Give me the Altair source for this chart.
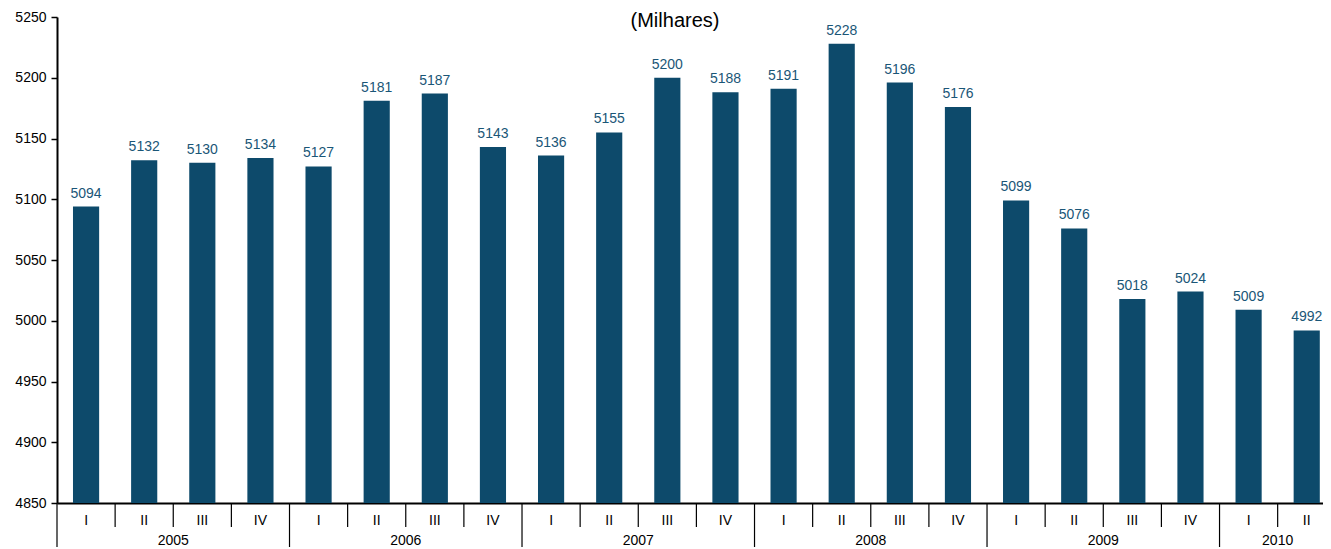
import altair as alt
import pandas as pd

values = [5094, 5132, 5130, 5134, 5127, 5181, 5187, 5143, 5136, 5155, 5200, 5188,
          5191, 5228, 5196, 5176, 5099, 5076, 5018, 5024, 5009, 4992]
quarters = ["I", "II", "III", "IV"] * 5 + ["I", "II"]
years = ["2005", "2006", "2007", "2008", "2009", "2010"]
year_counts = [4, 4, 4, 4, 4, 2]

BAR = "#0d4a6b"
LABEL = "#1a5677"
FONT = "Liberation Sans"

bars_df = pd.DataFrame({
    "x0": [i + 0.275 for i in range(len(values))],
    "x1": [i + 0.725 for i in range(len(values))],
    "xc": [i + 0.5 for i in range(len(values))],
    "v": values,
    "q": quarters,
    "lab": [str(v) for v in values],
})

starts = []
s = 0
for c in year_counts:
    starts.append(s)
    s += c
year_df = pd.DataFrame({
    "year": years,
    "start": starts,
    "center": [st + c / 2 for st, c in zip(starts, year_counts)],
})
quarter_sep = pd.DataFrame({"pos": [i for i in range(1, len(values)) if i not in starts]})

H = 486
W = 1266
xscale = alt.Scale(domain=[0, 21.78], nice=False, zero=False)
yscale = alt.Scale(domain=[4850, 5250], nice=False, zero=False)

base = alt.Chart(bars_df)

bars = base.mark_bar(color=BAR).encode(
    x=alt.X("x0:Q", scale=xscale,
            axis=alt.Axis(labels=False, ticks=False, title=None, grid=False,
                          domainColor="black", domainWidth=2)),
    x2="x1:Q",
    y=alt.Y("v:Q", scale=yscale,
            axis=alt.Axis(values=list(range(4850, 5251, 50)), format="d", title=None, grid=False,
                          domainColor="black", domainWidth=2, tickColor="black",
                          tickSize=6, tickWidth=1.5, labelFontSize=14, labelFont=FONT,
                          labelColor="black", labelPadding=5)),
    y2=alt.datum(4850),
)

labels = base.mark_text(color=LABEL, fontSize=14, font=FONT, baseline="bottom", dy=-6).encode(
    x=alt.X("xc:Q", scale=xscale),
    y=alt.Y("v:Q", scale=yscale),
    text="lab:N",
)

qlabels = base.mark_text(color="black", fontSize=14, font=FONT, baseline="middle").encode(
    x=alt.X("xc:Q", scale=xscale),
    y=alt.value(H + 18),
    text="q:N",
)

qsep = alt.Chart(quarter_sep).mark_rule(color="black", strokeWidth=1.2).encode(
    x=alt.X("pos:Q", scale=xscale),
    y=alt.value(H),
    y2=alt.value(H + 24),
)

ysep = alt.Chart(year_df).mark_rule(color="black", strokeWidth=1.2).encode(
    x=alt.X("start:Q", scale=xscale),
    y=alt.value(H),
    y2=alt.value(H + 50),
)

ylabels = alt.Chart(year_df).mark_text(color="black", fontSize=14, font=FONT, baseline="middle").encode(
    x=alt.X("center:Q", scale=xscale),
    y=alt.value(H + 38),
    text="year:N",
)

title = alt.Chart(pd.DataFrame({"t": ["(Milhares)"]})).mark_text(
    color="black", fontSize=20, font=FONT, baseline="middle"
).encode(
    x=alt.value(618),
    y=alt.value(4),
    text="t:N",
)

chart = alt.layer(bars, labels, qlabels, qsep, ysep, ylabels, title).properties(
    width=W,
    height=H,
    autosize=alt.AutoSizeParams(type="none"),
    padding={"left": 49, "top": 9, "right": 0, "bottom": 44},
).configure_view(stroke=None).configure_axis(labelFont=FONT)

chart.save("out.html", embed_options={"renderer": "svg", "actions": False})
